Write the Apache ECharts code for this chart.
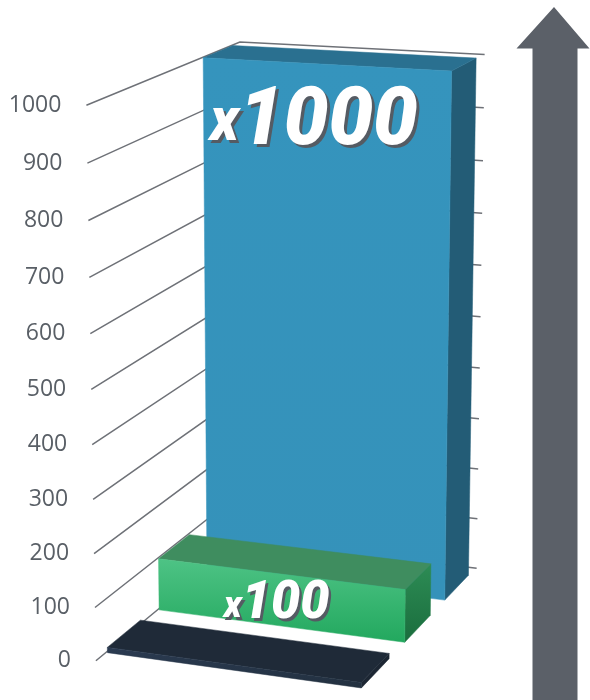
<!DOCTYPE html>
<html><head><meta charset="utf-8">
<script src="https://cdn.jsdelivr.net/npm/echarts@6/dist/echarts.min.js"></script>
<style>html,body{margin:0;padding:0;background:#fff}#chart{width:590px;height:700px}</style>
</head>
<body>
<div id="chart"></div>
<script>
// ---------- data ----------
const categories = ['Base', 'x100', 'x1000'];       // depth rows, front to back
const values = [10, 100, 1000];
const barLabels = ['', 'x100', 'x1000'];
const tickValues = [0, 100, 200, 300, 400, 500, 600, 700, 800, 900, 1000];
const tickLabels = ['0', '100', '200', '300', '400', '500', '600', '700', '800', '900', '1000'];
const yMax = 1000;

// ---------- layout: 3D camera calibration (wall box corners -> screen) ----------
// [X(width 0..1), H(height 0..1), Z(depth 0..1), screenX, screenY]
const camCal = [[0,0,0,96,660.7],[0,0.1,0,95,607.3],[0,0.2,0,94,554],[0,0.5,0,91.7,389.3],[0,0.8,0,88.3,220.7],[0,0.9,0,86.7,163.3],[0,1,0,86.7,105],
[0,1,1,240,42],[0,0.5,1,241,296],[0,0,1,242,540],[1,1,1,485,55],[1,0.8,1,483,160],[1,0.5,1,480,317],[1,0.2,1,478,469],[1,0,1,477,568.3]];
const barX0 = 0.006, barX1 = 0.994, barHalfDepth = 0.105;
const labelFont = 'Roboto, Lato, sans-serif';
const labelAnchorX = [0.47, 0.487, 0.455];

const faceStyles = [
  {front: ['#2b3b52', '#22303f'], top: '#1f2a38', right: '#1c2633'},
  {front: ['#4ec385', '#22a85e'], top: '#3f8d5f', right: ['#2d8c55', '#1a6d3d']},
  {front: ['#3594bd', '#3592ba'], top: '#2a7090', right: '#235c76'}
];

function solveLin(M, b) {
  const n = b.length; M = M.map(r => r.slice()); b = b.slice();
  for (let i = 0; i < n; i++) {
    let m = i; for (let k = i + 1; k < n; k++) if (Math.abs(M[k][i]) > Math.abs(M[m][i])) m = k;
    [M[i], M[m]] = [M[m], M[i]]; [b[i], b[m]] = [b[m], b[i]];
    for (let k = i + 1; k < n; k++) { const f = M[k][i] / M[i][i]; for (let j = i; j < n; j++) M[k][j] -= f * M[i][j]; b[k] -= f * b[i]; }
  }
  const x = new Array(n).fill(0);
  for (let i = n - 1; i >= 0; i--) { let s = b[i]; for (let j = i + 1; j < n; j++) s -= M[i][j] * x[j]; x[i] = s / M[i][i]; }
  return x;
}
const cam = (function () {
  const A = [], B = [];
  camCal.forEach(([X, Y, Z, u, v]) => {
    const un = (u - 300) / 300, vn = (v - 350) / 300;
    A.push([X, Y, Z, 1, 0, 0, 0, 0, -un * X, -un * Y, -un * Z]); B.push(un);
    A.push([0, 0, 0, 0, X, Y, Z, 1, -vn * X, -vn * Y, -vn * Z]); B.push(vn);
  });
  const AtA = [], Atb = [];
  for (let i = 0; i < 11; i++) {
    AtA.push([]); let s = 0;
    for (let r = 0; r < A.length; r++) s += A[r][i] * B[r];
    Atb.push(s);
    for (let j = 0; j < 11; j++) { let t = 0; for (let r = 0; r < A.length; r++) t += A[r][i] * A[r][j]; AtA[i].push(t); }
  }
  return solveLin(AtA, Atb);
})();
function proj(X, H, Z) {
  const p = cam, w = p[8] * X + p[9] * H + p[10] * Z + 1;
  return [(p[0] * X + p[1] * H + p[2] * Z + p[3]) / w * 300 + 300, (p[4] * X + p[5] * H + p[6] * Z + p[7]) / w * 300 + 350];
}
// value -> normalised height through the ECharts value axis
function heightOf(api, v) {
  const y0 = api.coord([0, 0])[1], y1 = api.coord([0, yMax])[1];
  return (y0 - api.coord([0, v])[1]) / (y0 - y1);
}
function grad(c) {
  return Array.isArray(c) ? {type: 'linear', x: 0, y: 0, x2: 0, y2: 1, colorStops: [{offset: 0, color: c[0]}, {offset: 1, color: c[1]}]} : c;
}
function labelText(lbl, x, y, dSize, xSize, xLift, sx, color, z2) {
  const tok = {fontFamily: labelFont, fontWeight: 900, fontStyle: 'italic', fill: color, verticalAlign: 'bottom'};
  return {
    type: 'text', z2: z2, x: x, y: y, scaleX: sx,
    style: {
      text: '{x|' + lbl.slice(0, 1) + '}{d|' + lbl.slice(1) + '}',
      align: 'center', verticalAlign: 'middle',
      rich: {
        x: Object.assign({fontSize: xSize, lineHeight: xSize, padding: [0, 0, xLift, 0]}, tok),
        d: Object.assign({fontSize: dSize, lineHeight: dSize}, tok)
      }
    }
  };
}

const chart = echarts.init(document.getElementById('chart'), null, {renderer: 'canvas', width: 590, height: 700});
const n = categories.length;
chart.setOption({
  animation: false,
  backgroundColor: '#ffffff',
  grid: {left: 96, right: 110, top: 105, bottom: 39},
  xAxis: {type: 'category', data: categories, show: false},
  yAxis: {type: 'value', min: 0, max: yMax, interval: 100, show: false},
  graphic: [{
    type: 'polygon', z: 0,
    shape: {points: [[554, 7], [589.5, 48.5], [577.5, 48.5], [577.5, 700], [532.5, 700], [532.5, 48.5], [516.5, 48.5]]},
    style: {fill: '#5b6068'}
  }],
  series: [
    {
      type: 'custom', name: 'walls', z: 1, silent: true,
      data: tickValues.map((v, i) => [0, v, i]),
      renderItem: function (params, api) {
        const v = api.value(1), idx = api.value(2);
        const t = heightOf(api, v);
        const a = proj(0, t, 0), b = proj(0, t, 1), c = proj(1, t, 1);
        return {
          type: 'group', children: [
            {type: 'polyline', shape: {points: [a, b, c]}, style: {stroke: '#6e7177', lineWidth: 1.5, fill: null}},
            {type: 'text', x: a[0] - 25, y: a[1], style: {text: tickLabels[idx], align: 'right', verticalAlign: 'middle', fill: '#595f66', fontSize: 23, fontFamily: 'Open Sans, Noto Sans, sans-serif'}}
          ]
        };
      }
    },
    {
      type: 'custom', name: 'bars', z: 2, silent: true,
      data: values.map((v, i) => [i, v]),
      renderItem: function (params, api) {
        const i = api.value(0), v = api.value(1);
        const t = heightOf(api, v);
        const zc = (i + 0.5) / n, z0 = zc - barHalfDepth, z1 = zc + barHalfDepth;
        const fs = faceStyles[i];
        const depthRank = (n - i) * 10;
        const front = [proj(barX0, 0, z0), proj(barX1, 0, z0), proj(barX1, t, z0), proj(barX0, t, z0)];
        const top = [proj(barX0, t, z0), proj(barX1, t, z0), proj(barX1, t, z1), proj(barX0, t, z1)];
        const right = [proj(barX1, 0, z0), proj(barX1, 0, z1), proj(barX1, t, z1), proj(barX1, t, z0)];
        const children = [
          {type: 'polygon', z2: depthRank, shape: {points: right}, style: {fill: grad(fs.right), stroke: grad(fs.right), lineWidth: 0.5}},
          {type: 'polygon', z2: depthRank + 1, shape: {points: top}, style: {fill: fs.top, stroke: fs.top, lineWidth: 0.5}},
          {type: 'polygon', z2: depthRank + 2, shape: {points: front}, style: {fill: grad(fs.front), stroke: grad(fs.front), lineWidth: 0.5}}
        ];
        const lbl = barLabels[i];
        if (lbl) {
          const big = t > 0.5;
          const lt = Math.max(t * 0.39, t - 0.1105);
          const p = proj(labelAnchorX[i], lt, z0);
          const dSize = big ? 82 : 53, xSize = big ? 60 : 37, xLift = big ? 9 : 5, off = big ? 3 : 2.5, sx = big ? 0.97 : 0.98;
          children.push(labelText(lbl, p[0] + off, p[1] + off, dSize, xSize, xLift, sx, '#555b63', depthRank + 4));
          children.push(labelText(lbl, p[0], p[1], dSize, xSize, xLift, sx, '#ffffff', depthRank + 5));
        }
        return {type: 'group', children: children};
      }
    }
  ]
});
</script>
</body></html>
